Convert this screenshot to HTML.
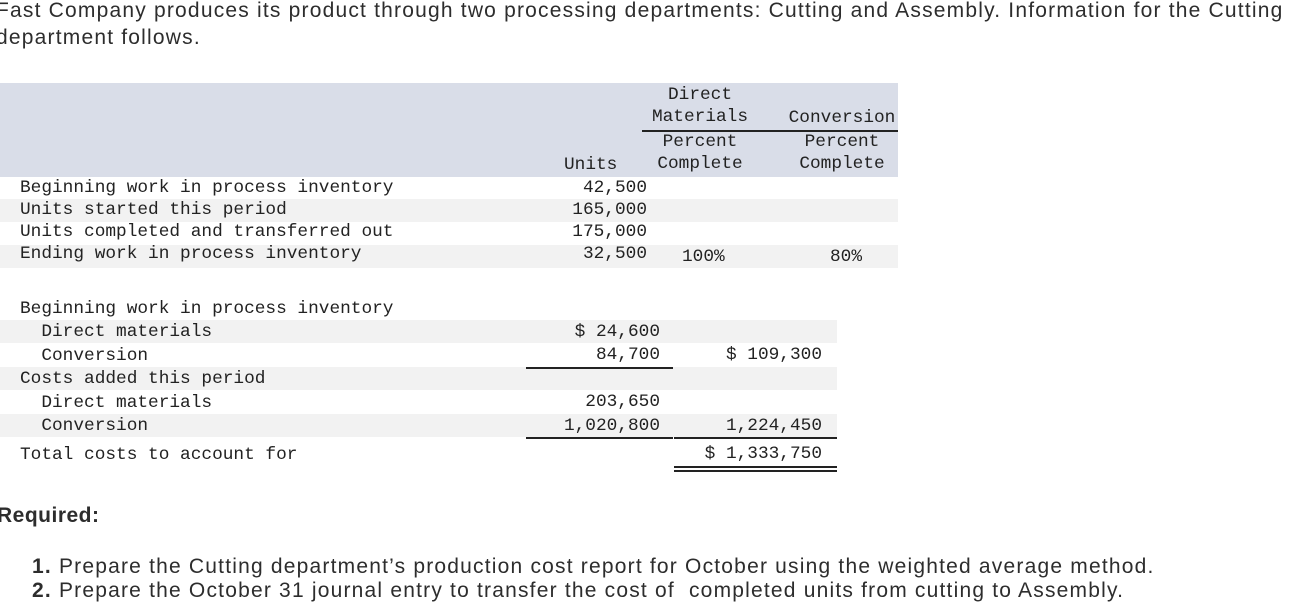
<!DOCTYPE html>
<html><head><meta charset="utf-8"><style>
body{margin:0;width:1295px;height:607px;background:#fff;position:relative;overflow:hidden;font-family:"Liberation Sans",sans-serif;color:#2d2d2d}
.p{position:absolute;white-space:nowrap;font-size:21px;letter-spacing:1.2px}
.m{position:absolute;white-space:nowrap;font-family:"Liberation Mono",monospace;font-size:17.8px;color:#222;line-height:22px}
.r{text-align:right}
.c{text-align:center}
.band{position:absolute;left:0}
.ln{position:absolute;height:1.5px;background:#222}
</style></head><body>
<div class="p" style="left:-4px;top:-1px">Fast Company produces its product through two processing departments: Cutting and Assembly. Information for the Cutting</div>
<div class="p" style="left:-4px;top:26px">department follows.</div>

<div class="band" style="top:83px;width:898px;height:94px;background:#d9dde8"></div>
<div class="band" style="top:199px;width:898px;height:23px;background:#f2f2f2"></div>
<div class="band" style="top:245px;width:898px;height:23px;background:#f2f2f2"></div>
<div class="band" style="top:320px;width:837px;height:23px;background:#f2f2f2"></div>
<div class="band" style="top:367px;width:837px;height:23px;background:#f2f2f2"></div>
<div class="band" style="top:414px;width:837px;height:23px;background:#f2f2f2"></div>

<div class="m c" style="left:640px;width:120px;top:84px">Direct<br>Materials</div>
<div class="ln" style="left:642px;top:130px;width:256px"></div>
<div class="m c" style="left:782px;width:120px;top:107px">Conversion</div>
<div class="m c" style="left:640px;width:120px;top:131px">Percent<br>Complete</div>
<div class="m c" style="left:782px;width:120px;top:131px">Percent<br>Complete</div>
<div class="m" style="left:564px;top:154px">Units</div>

<div class="m" style="left:20px;top:177px">Beginning work in process inventory<br>Units started this period<br>Units completed and transferred out<br>Ending work in process inventory</div>
<div class="m r" style="left:520px;width:127px;top:177px">42,500<br>165,000<br>175,000<br>32,500</div>
<div class="m" style="left:682px;top:246px">100%</div>
<div class="m" style="left:830px;top:246px">80%</div>

<div class="m" style="left:20px;top:298px;line-height:23.4px">Beginning work in process inventory<br>&nbsp;&nbsp;Direct materials<br>&nbsp;&nbsp;Conversion<br>Costs added this period<br>&nbsp;&nbsp;Direct materials<br>&nbsp;&nbsp;Conversion</div>
<div class="m" style="left:20px;top:444px">Total costs to account for</div>
<div class="m r" style="left:500px;width:160px;top:321px;line-height:23.4px">$ 24,600<br>84,700<br><br>203,650<br>1,020,800</div>
<div class="m r" style="left:660px;width:162px;top:344px">$ 109,300</div>
<div class="m r" style="left:660px;width:162px;top:415px">1,224,450</div>
<div class="m r" style="left:660px;width:162px;top:443px">$ 1,333,750</div>
<div class="ln" style="left:526px;top:367px;width:147px"></div>
<div class="ln" style="left:526px;top:437px;width:147px"></div>
<div class="ln" style="left:674px;top:437px;width:163px"></div>
<div class="ln" style="left:674px;top:466px;width:163px"></div>
<div class="ln" style="left:674px;top:470px;width:163px"></div>

<div class="p" style="left:-3px;top:504px;font-weight:bold;letter-spacing:0.5px">Required:</div>
<div class="p" style="left:32px;top:555px"><b>1.</b> Prepare the Cutting department’s production cost report for October using the weighted average method.</div>
<div class="p" style="left:32px;top:579px"><b>2.</b> Prepare the October 31 journal entry to transfer the cost of &nbsp;completed units from cutting to Assembly.</div>
</body></html>
